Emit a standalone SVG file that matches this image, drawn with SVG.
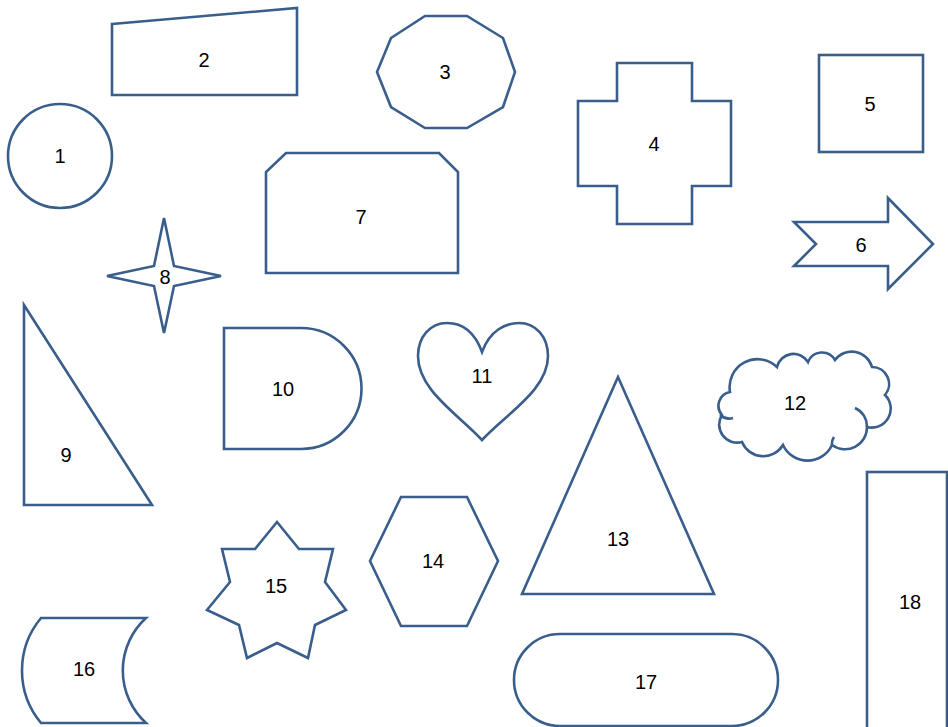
<svg xmlns="http://www.w3.org/2000/svg" width="948" height="727" viewBox="0 0 948 727">
<style>
.s{fill:#ffffff;stroke:#3A5E8C;stroke-width:2.6;stroke-linejoin:miter}
.o{fill:none;stroke:#3A5E8C;stroke-width:2.6}
.t{font-family:"Liberation Sans",Arial,sans-serif;font-size:20px;fill:#000;text-anchor:middle;dominant-baseline:central}
</style>
<rect width="948" height="727" fill="#ffffff"/>
<g id="n1"><circle class="s" cx="60" cy="156" r="52"/><text class="t" x="60" y="156">1</text></g>
<g id="n2"><polygon class="s" points="112,24 297,8 297,95 112,95"/><text class="t" x="204" y="60">2</text></g>
<g id="n3"><polygon class="s" points="425,16 467,16 503,38 515,72 503,107 467,128 425,128 391,107 377,72 391,38"/><text class="t" x="445" y="72">3</text></g>
<g id="n4"><polygon class="s" points="617,63 692,63 692,101 731,101 731,186 692,186 692,224 617,224 617,186 578,186 578,101 617,101"/><text class="t" x="654" y="144">4</text></g>
<g id="n5"><rect class="s" x="819" y="55" width="104" height="97"/><text class="t" x="870" y="104">5</text></g>
<g id="n6"><polygon class="s" points="794,222 888,222 888,198 933,244 888,289 888,266 794,266 816,244"/><text class="t" x="861" y="245">6</text></g>
<g id="n7"><polygon class="s" points="286,153 439,153 458,172 458,273 266,273 266,172"/><text class="t" x="361" y="217">7</text></g>
<g id="n8"><polygon class="s" points="164,218 174,266 221,276 174,286 164,333 154,286 107,276 154,266"/><text class="t" x="165" y="277">8</text></g>
<g id="n9"><polygon class="s" points="24,305 152,505 24,505"/><text class="t" x="66" y="455">9</text></g>
<g id="n10"><path class="s" d="M224,328 H301 A60.5,60.5 0 0 1 301,449 H224 Z"/><text class="t" x="283" y="389">10</text></g>
<g id="n11"><path class="s" d="M482,352 C474,330 460,323 447,323 C430,323 418,337 418,356 C418,390 458,414 482,440 C506,414 548,390 548,356 C548,337 536,323 519,323 C506,323 490,330 482,352 Z"/><text class="t" x="482" y="376">11</text></g>
<g id="n12"><path class="s" d="M730,392 A28,28 0 0 1 777,367 A17,17 0 0 1 808,362 A15,15 0 0 1 835,360 A21,21 0 0 1 872,367 A17,17 0 0 1 885,395 A19,19 0 0 1 867,427 A22,22 0 0 1 832,445 A27,27 0 0 1 783,445 A23,23 0 0 1 742,442 A18,18 0 0 1 722,415 A14,14 0 0 1 730,392 Z"/><path class="o" d="M720,415 A14,14 0 0 0 733,418 M855,408 A20,20 0 0 1 867,427 M832,445 A12,12 0 0 1 834,437"/><text class="t" x="795" y="403">12</text></g>
<g id="n13"><polygon class="s" points="618,377 714,594 522,594"/><text class="t" x="618" y="539">13</text></g>
<g id="n14"><polygon class="s" points="401,497 467,497 498,561 467,626 401,626 370,561"/><text class="t" x="433" y="561">14</text></g>
<g id="n15"><polygon class="s" points="277,522 299,549 333,549 325,582 346,610 315,625 308,658 277,643 247,658 239,625 207,610 230,582 222,549 255,549"/><text class="t" x="276" y="586">15</text></g>
<g id="n16"><path class="s" d="M41,618 H146 A71,71 0 0 0 146,723 H41 A82,82 0 0 1 41,618 Z"/><text class="t" x="84" y="669">16</text></g>
<g id="n17"><rect class="s" x="514" y="634" width="264" height="92" rx="46"/><text class="t" x="646" y="682">17</text></g>
<g id="n18"><rect class="s" x="867" y="472" width="80" height="270"/><text class="t" x="910" y="602">18</text></g>
<g id="connectors"></g>
</svg>
